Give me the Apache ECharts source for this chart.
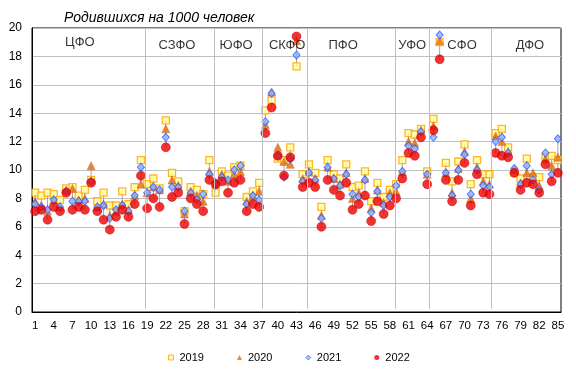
<!DOCTYPE html>
<html>
<head>
<meta charset="utf-8">
<script src="https://cdn.jsdelivr.net/npm/echarts@6/dist/echarts.min.js"></script>
<style>
  html, body { margin: 0; padding: 0; background: #fff; }
  .chart { width: 576px; height: 376px; }
</style>
</head>
<body>
<div class="chart"></div>
<script>
// номера регионов 1..85
let regions = [];
for (let i = 1; i <= 85; i++) regions.push(String(i));

let y2019 = [8.4, 8.2, 8.4, 8.3, 7.9, 8.7, 8.8, 8.2, 8.6, 9.3, 7.8, 8.4, 7.5, 7.5, 8.5, 7.6, 8.8, 10.7,
  9.0, 9.4, 8.7, 13.5, 9.8, 9.2, 7.1, 8.8, 8.6, 8.3, 10.7,
  8.4, 9.9, 9.6, 10.2, 10.3, 8.1, 8.5, 9.1,
  14.2, 14.9, 10.8, 10.7, 11.6, 17.3, 9.7,
  10.4, 9.8, 7.4, 10.7, 9.7, 9.4, 10.4, 8.8, 8.9, 9.9, 7.8, 9.1, 8.1, 8.6,
  9.0, 10.7, 12.6, 12.5, 12.9, 9.9,
  13.6, 19.0, 10.5, 9.2, 10.6, 11.8, 9.0, 10.7, 9.7, 9.7,
  12.6, 12.9, 11.6, 9.8, 9.4, 10.8, 9.5, 9.5, 10.9, 11.0, 10.7];
let y2020 = [7.8, 7.5, 7.1, 7.9, 7.4, 8.6, 8.7, 7.9, 8.0, 10.3, 7.4, 7.6, 6.8, 7.1, 7.6, 7.2, 8.2, 9.0,
  8.4, 8.8, 8.6, 12.9, 9.3, 8.9, 6.9, 8.5, 8.2, 7.8, 9.9,
  9.0, 9.7, 9.2, 9.7, 9.9, 7.8, 8.2, 8.5,
  13.2, 15.5, 11.6, 10.6, 10.4, 19.1, 9.4,
  9.9, 9.4, 6.8, 10.2, 9.4, 9.0, 9.8, 8.0, 8.4, 9.4, 7.3, 8.6, 7.7, 8.4,
  8.5, 9.9, 12.0, 11.9, 12.8, 9.7,
  13.1, 19.1, 9.8, 8.4, 10.1, 11.3, 8.0, 10.2, 9.2, 9.0,
  12.4, 12.0, 11.3, 10.0, 9.1, 9.8, 9.8, 8.9, 10.8, 10.3, 10.9];
let y2021 = [7.6, 7.4, 7.2, 7.9, 7.4, 8.5, 7.8, 7.8, 7.8, 9.2, 7.4, 7.5, 6.6, 7.2, 7.5, 7.1, 8.2, 10.2,
  8.4, 8.8, 8.6, 12.3, 8.8, 8.8, 7.1, 8.4, 7.9, 8.3, 9.7,
  9.1, 9.5, 9.3, 10.0, 10.3, 7.6, 8.2, 7.9,
  13.4, 15.4, 11.0, 9.5, 10.8, 18.1, 9.2,
  9.8, 9.3, 6.6, 10.2, 9.4, 8.9, 9.7, 8.3, 8.1, 9.3, 7.0, 8.5, 7.5, 8.1,
  8.9, 9.9, 11.7, 11.5, 12.7, 9.7,
  12.3, 19.5, 9.8, 8.2, 10.0, 11.1, 8.3, 10.0, 8.9, 8.8,
  12.0, 12.3, 11.2, 10.1, 9.0, 10.3, 9.3, 8.6, 11.2, 9.7, 12.2];
let y2022 = [7.1, 7.2, 6.5, 7.4, 7.1, 8.4, 7.2, 7.4, 7.2, 9.1, 7.1, 6.5, 5.8, 6.7, 7.2, 6.7, 7.6, 9.6,
  7.3, 8.0, 7.4, 11.6, 8.1, 8.4, 6.2, 8.0, 7.6, 7.1, 9.3,
  9.0, 9.2, 8.4, 9.1, 9.3, 7.1, 7.6, 7.4,
  12.6, 14.4, 11.0, 9.6, 10.9, 19.4, 8.8,
  9.1, 8.8, 6.0, 9.3, 8.6, 8.2, 9.1, 7.2, 7.6, 8.2, 6.4, 7.8, 6.9, 7.5,
  8.0, 9.4, 11.2, 11.0, 12.3, 9.0,
  12.8, 17.8, 9.3, 7.8, 9.3, 10.5, 7.5, 9.7, 8.4, 8.3,
  11.2, 11.0, 10.9, 9.8, 8.6, 9.1, 9.0, 8.4, 10.4, 9.2, 9.8];

// федеральные округа: подпись, положение по x и y
let districts = ['ЦФО', 'СЗФО', 'ЮФО', 'СКФО', 'ПФО', 'УФО', 'СФО', 'ДФО'];
let districtX = [8.2, 23.8, 33.3, 41.5, 50.5, 61.6, 69.6, 80.5];
let districtY = [18.95, 18.8, 18.8, 18.8, 18.8, 18.75, 18.75, 18.75];
// вертикальные разделители между округами
let dividers = [18.75, 29.8, 37.5, 44.7, 58.9, 64.35, 74.3];

let yTicks = { min: 0, max: 20, interval: 2 };

~function () {
  let myChart = echarts.init(document.querySelector('.chart'), null, { renderer: 'canvas' });
  let font = "'Liberation Sans', Arial, sans-serif";

  let toPoints = function (arr) {
    return arr.map(function (v, i) { return [i + 1, v]; });
  };
  let highLow = regions.map(function (r, i) {
    let vals = [y2019[i], y2020[i], y2021[i], y2022[i]];
    return [i + 1, Math.min.apply(null, vals), Math.max.apply(null, vals)];
  });
  let labels = districts.map(function (d, i) {
    return [districtX[i], districtY[i], d];
  });

  let option = {
    animation: false,
    textStyle: { fontFamily: font },
    title: {
      text: 'Родившихся на 1000 человек',
      left: 59,
      top: 6,
      textStyle: { fontSize: 14, fontStyle: 'italic', fontWeight: 'normal', color: '#000', fontFamily: font }
    },
    legend: {
      data: [
        { name: '2019', icon: 'rect', itemStyle: { borderWidth: 1 } },
        { name: '2020', icon: 'triangle', itemStyle: { borderWidth: 0 } },
        { name: '2021', icon: 'diamond', itemStyle: { borderWidth: 0.8 } },
        { name: '2022', icon: 'circle', itemStyle: { borderWidth: 0 } }
      ],
      left: 168,
      top: 352,
      itemWidth: 5,
      itemHeight: 5,
      itemGap: 33,
      padding: 0,
      textStyle: { fontSize: 11, color: '#000', fontFamily: font, padding: [0, 0, 0, 1] }
    },
    grid: {
      left: 32, right: 15, top: 28, bottom: 64,
      show: true, borderColor: '#000', borderWidth: 1
    },
    xAxis: [
      {
        type: 'category',
        data: regions,
        boundaryGap: true,
        axisLine: { lineStyle: { color: '#000', width: 1 } },
        axisTick: { show: false },
        axisLabel: { interval: 2, fontSize: 11.5, color: '#000', margin: 8, fontFamily: font },
        splitLine: { show: false }
      },
      {
        type: 'value',
        min: 0.5,
        max: 85.5,
        show: false,
        splitLine: { show: false }
      }
    ],
    yAxis: {
      type: 'value',
      min: yTicks.min,
      max: yTicks.max,
      interval: yTicks.interval,
      axisLine: { show: true, lineStyle: { color: '#000', width: 1 } },
      axisTick: { show: false },
      axisLabel: { fontSize: 12, color: '#000', margin: 10, fontFamily: font },
      splitLine: { lineStyle: { color: '#c0c0c0', width: 1 } }
    },
    series: [
      {
        name: 'округа',
        type: 'scatter',
        xAxisIndex: 1,
        data: labels,
        symbolSize: 0,
        silent: true,
        label: {
          show: true,
          position: 'inside',
          formatter: function (p) { return p.value[2]; },
          fontSize: 13,
          color: '#000',
          fontFamily: font
        },
        markLine: {
          silent: true,
          symbol: 'none',
          label: { show: false },
          lineStyle: { color: '#c0c0c0', width: 1, type: 'solid' },
          data: dividers.map(function (x) {
            return [{ coord: [x, 0.2] }, { coord: [x, 20] }];
          })
        }
      },
      {
        name: 'размах',
        type: 'custom',
        xAxisIndex: 1,
        data: highLow,
        encode: { x: 0, y: [1, 2] },
        silent: true,
        renderItem: function (params, api) {
          let top = api.coord([api.value(0), api.value(2)]);
          let bottom = api.coord([api.value(0), api.value(1)]);
          return {
            type: 'line',
            shape: { x1: top[0], y1: top[1], x2: bottom[0], y2: bottom[1] },
            style: { stroke: '#a6a6a6', lineWidth: 1 }
          };
        }
      },
      {
        name: '2019',
        type: 'scatter',
        xAxisIndex: 1,
        data: toPoints(y2019),
        symbol: 'rect',
        symbolSize: 7,
        itemStyle: { color: '#ffff99', borderColor: '#ffa200', borderWidth: 1.3 }
      },
      {
        name: '2020',
        type: 'scatter',
        xAxisIndex: 1,
        data: toPoints(y2020),
        symbol: 'triangle',
        symbolSize: 8,
        itemStyle: { color: '#e46c0a', borderColor: '#c55a11', borderWidth: 0.5 }
      },
      {
        name: '2021',
        type: 'scatter',
        xAxisIndex: 1,
        data: toPoints(y2021),
        symbol: 'diamond',
        symbolSize: [7, 8],
        itemStyle: { color: '#8db3ff', borderColor: '#2f5cff', borderWidth: 1 }
      },
      {
        name: '2022',
        type: 'scatter',
        xAxisIndex: 1,
        data: toPoints(y2022),
        symbol: 'circle',
        symbolSize: 9,
        itemStyle: { color: '#ee0000', borderColor: '#c00000', borderWidth: 0.6 }
      }
    ]
  };
  myChart.setOption(option);
}();
</script>
</body>
</html>
